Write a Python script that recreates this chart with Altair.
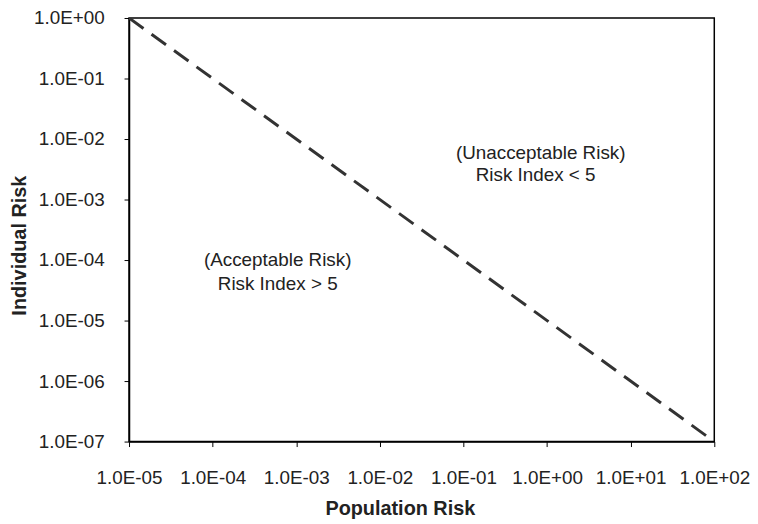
import json
import altair as alt
import pandas as pd

# Axis ticks and labels
x_ticks = [1e-5, 1e-4, 1e-3, 1e-2, 1e-1, 1e0, 1e1, 1e2]
x_tick_labels = ["1.0E-05", "1.0E-04", "1.0E-03", "1.0E-02", "1.0E-01", "1.0E+00", "1.0E+01", "1.0E+02"]
y_ticks = [1e-7, 1e-6, 1e-5, 1e-4, 1e-3, 1e-2, 1e-1, 1e0]
y_tick_labels = ["1.0E-07", "1.0E-06", "1.0E-05", "1.0E-04", "1.0E-03", "1.0E-02", "1.0E-01", "1.0E+00"]

# Boundary line (Risk Index = 5)
line_x = [1e-5, 80.0]
line_y = [1.0, 1.25e-7]

# Annotations
ann_text = ["(Acceptable Risk)", "Risk Index > 5", "(Unacceptable Risk)", "Risk Index < 5"]
ann_x = [6.0e-4, 6.0e-4, 0.84, 0.73]
ann_y = [9.9e-5, 4.0e-5, 5.9e-3, 2.5e-3]

FONT = "Liberation Sans, Arial, Helvetica, sans-serif"

line_df = pd.DataFrame({"x": line_x, "y": line_y})
ann_df = pd.DataFrame({"x": ann_x, "y": ann_y, "t": ann_text})

x_expr = json.dumps(x_tick_labels) + "[round(log(datum.value)/LN10)+5]"
y_expr = json.dumps(y_tick_labels) + "[round(log(datum.value)/LN10)+7]"

x_scale = alt.Scale(type="log", domain=[1e-5, 100], nice=False)
y_scale = alt.Scale(type="log", domain=[1e-7, 1], nice=False)

x_axis = alt.Axis(
    values=x_ticks, labelExpr=x_expr, grid=False, tickSize=5, tickColor="black",
    domainColor="black", domainWidth=1.5, labelFontSize=19, labelColor="#222",
    labelPadding=22, labelFlush=False, labelOverlap=False, labelBound=False,
    title="Population Risk", titleFontSize=20, titleFontWeight="bold", titleColor="#222",
    titleX=273, titleY=68, titleAlign="center", titleBaseline="middle",
)
y_axis = alt.Axis(
    values=y_ticks, labelExpr=y_expr, grid=False, tickSize=5, tickColor="black",
    domainColor="black", domainWidth=1.5, labelFontSize=19, labelColor="#222",
    labelPadding=20, labelOverlap=False, labelBound=False,
    title="Individual Risk", titleFontSize=20, titleFontWeight="bold", titleColor="#222",
    titleX=-110, titleY=229, titleAngle=-90, titleAlign="center", titleBaseline="middle",
)

line = alt.Chart(line_df).mark_line(
    strokeDash=[18, 10], strokeWidth=3, color="#333", clip=True
).encode(
    x=alt.X("x:Q", scale=x_scale, axis=x_axis),
    y=alt.Y("y:Q", scale=y_scale, axis=y_axis),
)

text = alt.Chart(ann_df).mark_text(
    fontSize=19, color="#222", font=FONT, align="center", baseline="middle"
).encode(
    x=alt.X("x:Q", scale=x_scale),
    y=alt.Y("y:Q", scale=y_scale),
    text="t:N",
)

chart = (line + text).properties(
    width=590, height=427,
    autosize=alt.AutoSizeParams(type="none"),
    padding={"left": 122, "top": 8, "right": 36, "bottom": 80},
).configure(font=FONT).configure_view(
    stroke="black", strokeWidth=1.5
)

chart.save("out.html", embed_options={"renderer": "svg", "actions": False})
